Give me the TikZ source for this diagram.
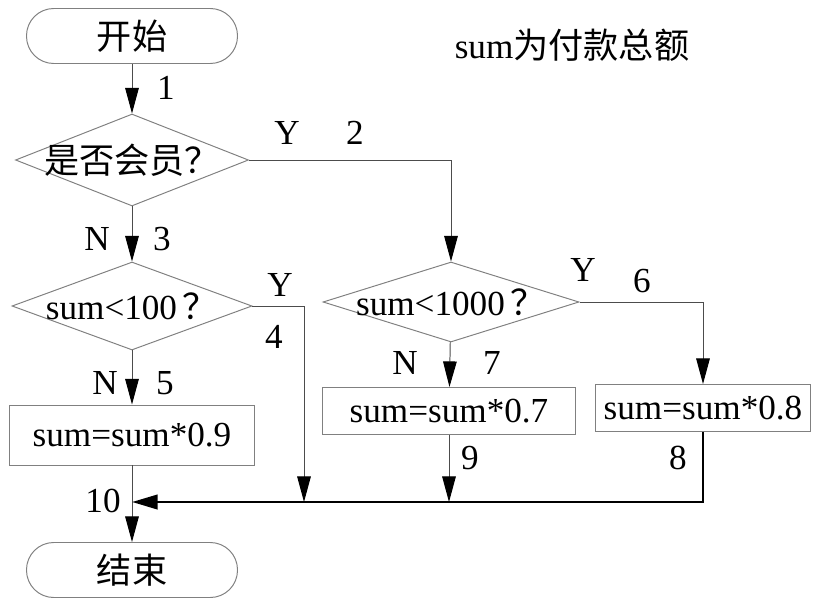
\documentclass[tikz,border=0pt]{standalone}
\usepackage{fontspec}
\setmainfont{Liberation Serif}
\newfontfamily\cjk{Noto Sans CJK SC}
\usetikzlibrary{shapes.geometric,arrows.meta}
\begin{document}
\begin{tikzpicture}[x=0.025cm,y=-0.025cm,
  every node/.style={font=\fontsize{25}{30}\selectfont},
  term/.style={draw=gray,line width=0.7pt,rounded corners=0.68cm,minimum width=211*0.025cm,minimum height=55*0.025cm},
  proc/.style={draw=gray,line width=0.7pt,inner sep=0pt},
  dec/.style={draw=gray,line width=0.7pt,diamond,inner sep=0pt},
  flow/.style={draw=black!70,line width=0.7pt,-{Triangle[length=0.64cm,width=0.34cm,color=black]}},
  bus/.style={draw=black,line width=2pt,-{Triangle[length=0.64cm,width=0.36cm,color=black]}}]
\useasboundingbox (0,0) rectangle (820,610);

\node[term] (start) at (132,36) {\cjk 开始};
\node[dec,minimum width=233*0.025cm,minimum height=92*0.025cm,label=center:{\cjk 是否会员？}] (q1) at (132,160) {};
\node[dec,minimum width=240*0.025cm,minimum height=88*0.025cm,label=center:{sum<100\,{\cjk ？}}] (q2) at (132,306) {};
\node[dec,minimum width=256*0.025cm,minimum height=80*0.025cm,label=center:{sum<1000\,{\cjk ？}}] (q3) at (451,302) {};
\node[proc,minimum width=245*0.025cm,minimum height=60*0.025cm] (b1) at (132,435) {sum=sum*0.9};
\node[proc,minimum width=253*0.025cm,minimum height=47*0.025cm] (b2) at (449,411) {sum=sum*0.7};
\node[proc,minimum width=215*0.025cm,minimum height=47*0.025cm] (b3) at (703,408) {sum=sum*0.8};
\node[term] (stop) at (132,570) {\cjk 结束};
\node (title) at (572,45) {sum{\cjk 为付款总额}};

\coordinate (m) at (132,502);
\coordinate (j4) at (304,502);

% labels
\node (n1) at (166,88) {1};
\node (y2) at (287,133) {Y};
\node (n2) at (355,133) {2};
\node (no3) at (97,239) {N};
\node (n3) at (162,239) {3};
\node (y4) at (280,285) {Y};
\node (n4) at (274,337) {4};
\node (no5) at (105,383) {N};
\node (n5) at (165,383) {5};
\node (y6) at (583,270) {Y};
\node (n6) at (642,281) {6};
\node (no7) at (405,363) {N};
\node (n7) at (492,363) {7};
\node (n8) at (678,458) {8};
\node (n9) at (470,458) {9};
\node (n10) at (103,501) {10};

\draw[flow] (start) -- (q1);
\draw[flow] (q1) -- (q2);
\draw[flow] (q1.east) -| (q3.north);
\draw[flow] (q2) -- (b1);
\draw[flow] (q2.east) -| (j4);
\draw[flow] (q3) -- (b2);
\draw[flow] (q3.east) -| (b3.north);
\draw[flow] (b2.south) -- (b2.south |- m);
\draw[flow] (b1) -- (stop);
\draw[bus] (b3.south) |- (m);
\end{tikzpicture}
\end{document}
